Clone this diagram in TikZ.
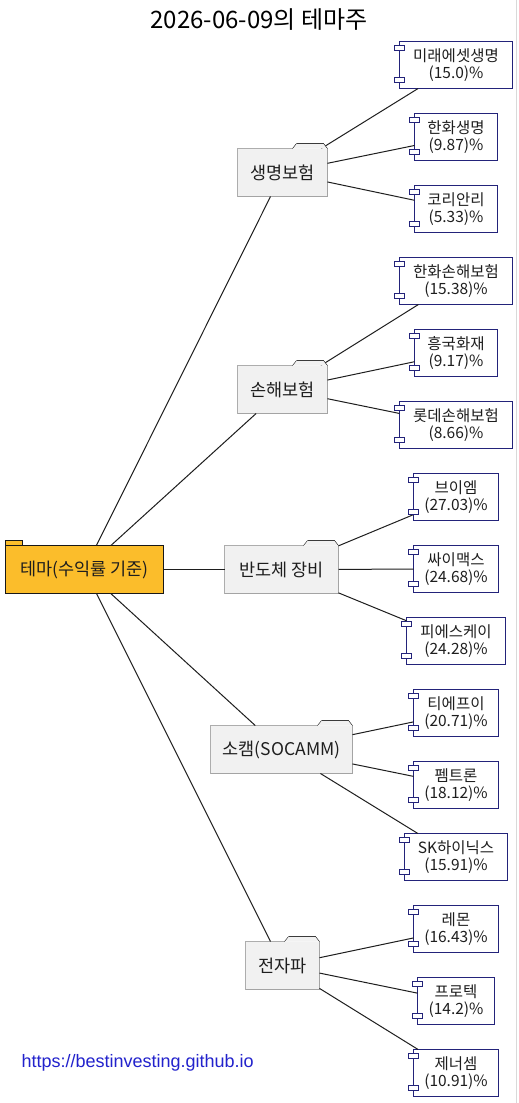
\documentclass[tikz,border=0pt]{standalone}
\usepackage{fontspec}
\setmainfont{Noto Sans CJK KR}
\newfontfamily\urlfont{Liberation Sans}
\usepackage{xcolor}
\usepackage{tikz}
\usetikzlibrary{calc,positioning}
\definecolor{Ink}{HTML}{1E1E1E}
\definecolor{FolderFill}{HTML}{F1F1F1}
\definecolor{FolderLine}{HTML}{181818}
\definecolor{RootFill}{HTML}{FBBD2B}
\definecolor{LeafLine}{HTML}{23237A}
\definecolor{UrlBlue}{HTML}{2222CC}

\begin{document}
\begin{tikzpicture}[x=1pt,y=-1pt,
  theme/.style={fill=FolderFill,minimum height=48,outer sep=0,inner sep=0,
    font=\fontsize{17.5}{20}\selectfont,text=Ink},
  stock/.style={draw=LeafLine,fill=white,minimum height=47,outer sep=0,inner sep=0,
    align=center,font=\fontsize{15.5}{17}\selectfont,text=Ink},
  edge/.style={Ink,line width=1pt}]
  \fill[white] (0,0) rectangle (519,1103);
  \useasboundingbox (0,0) rectangle (519,1103);
  \draw[gray!30] (516.5,0) -- (516.5,1103);
  \node[font=\fontsize{24}{28}\selectfont] (title) at (259,20) {2026-06-09의 테마주};
  \node[theme,draw=FolderLine,fill=RootFill,minimum width=158] (root) at (84.5,569.5) {테마(수익률 기준)};
  \node[theme,minimum width=90] (life) at (282.5,172.5) {생명보험};
  \node[theme,minimum width=90] (nonlife) at (282.5,389.5) {손해보험};
  \node[theme,minimum width=114] (semi) at (281.5,569.5) {반도체 장비};
  \node[theme,minimum width=142] (socamm) at (281.5,749.5) {소캠(SOCAMM)};
  \node[theme,minimum width=74] (emw) at (282.5,965.5) {전자파};
  \foreach \id/\name/\pct/\w [count=\i from 0] in {
      mirae/미래에셋생명/15.0/113, hanwhalife/한화생명/9.87/83, korean/코리안리/5.33/83,
      hanwhains/한화손해보험/15.38/113, heungkuk/흥국화재/9.17/83, lotte/롯데손해보험/8.66/113,
      vm/브이엠/27.03/85, cymechs/싸이맥스/24.68/85, psk/피에스케이/24.28/99,
      tfe/티에프이/20.71/85, pemtron/펨트론/18.12/85, skhynix/SK하이닉스/15.91/103,
      lemon/레몬/16.43/85, protec/프로텍/14.2/77, genesem/제너셈/10.91/85}
    \node[stock,minimum width=\w] (\id) at (456,65+72*\i) {\name\\(\pct)\%};
  \foreach \a/\b in {root/life, root/nonlife, root/semi, root/socamm, root/emw,
      life/mirae, life/hanwhalife, life/korean,
      nonlife/hanwhains, nonlife/heungkuk, nonlife/lotte,
      semi/vm, semi/cymechs, semi/psk,
      socamm/tfe, socamm/pemtron, socamm/skhynix,
      emw/lemon, emw/protec, emw/genesem}
    \draw[edge] (\a) -- (\b);
  \draw[FolderLine,fill=RootFill] (root.north west) rectangle ++(17,-5);
  \foreach \n in {life,nonlife,semi,socamm,emw} {
    \fill[FolderFill] ($(\n.north east)+(-35,0)$) -- ++(4,-5) -- ($(\n.north east)+(-4,-5)$)
      -- (\n.north east) -- cycle;
    \draw[FolderLine] (\n.south west) -- (\n.north west) -- ($(\n.north east)+(-35,0)$)
      -- ++(4,-5) -- ($(\n.north east)+(-4,-5)$) -- (\n.north east) -- (\n.south east) -- cycle;
    \draw[FolderLine!85,line width=1.6pt] ($(\n.north east)+(-31,-5)$) -- ($(\n.north east)+(-4,-5)$);
  }
  \foreach \n in {mirae,hanwhalife,korean,hanwhains,heungkuk,lotte,vm,cymechs,psk,
      tfe,pemtron,skhynix,lemon,protec,genesem} {
    \draw[LeafLine,fill=white] ($(\n.north west)+(-5,4)$) rectangle ++(10,5);
    \draw[LeafLine,fill=white] ($(\n.south west)+(-5,-11)$) rectangle ++(10,5);
  }
  \node[anchor=west,font=\urlfont\fontsize{18}{21}\selectfont,text=UrlBlue] (url) at (18,1063)
    {https://bestinvesting.github.io};
\end{tikzpicture}
\end{document}
